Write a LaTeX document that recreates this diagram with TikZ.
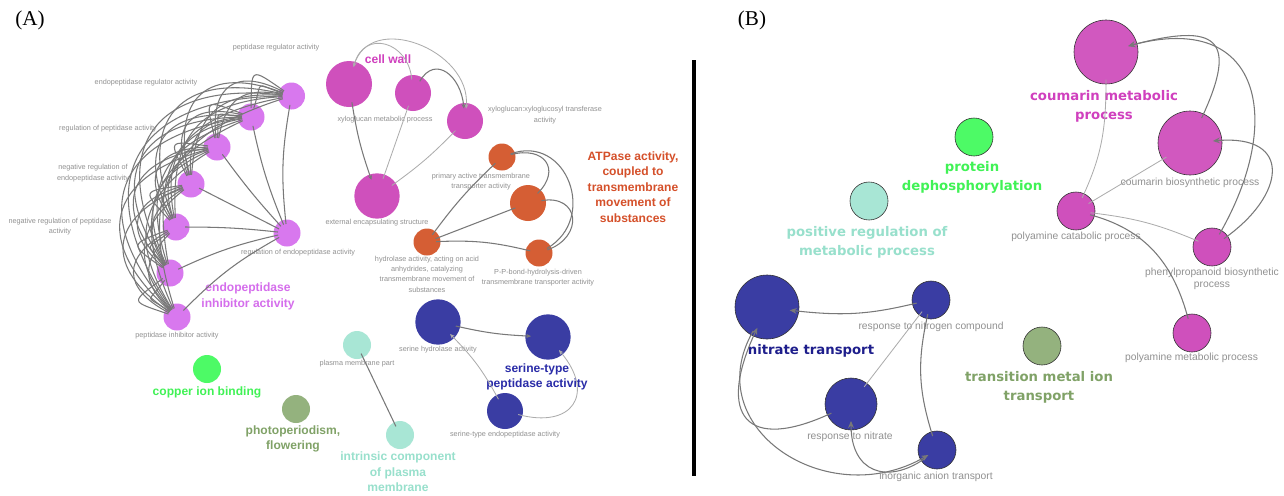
\documentclass[tikz,border=0pt]{standalone}
\usepackage{fontspec}
\setmainfont{Liberation Sans}
\newfontfamily\boldwide{DejaVu Sans}
\newfontfamily\panelserif{Liberation Serif}
\usepackage{xcolor}
\usepackage{tikz}
\usetikzlibrary{arrows.meta}
\definecolor{aviolet}{HTML}{D878EE}
\definecolor{amagenta}{HTML}{CF50BC}
\definecolor{aorange}{HTML}{D55E34}
\definecolor{ablue}{HTML}{3A3DA3}
\definecolor{ateal}{HTML}{A8E6D5}
\definecolor{agreen}{HTML}{4DFA66}
\definecolor{aolive}{HTML}{94B27E}
\definecolor{tviolet}{HTML}{D56EEC}
\definecolor{tmagenta}{HTML}{D040BE}
\definecolor{torange}{HTML}{D5502A}
\definecolor{tblue}{HTML}{2A2CA8}
\definecolor{tnavy}{HTML}{1E1E8C}
\definecolor{tteal}{HTML}{98E0CC}
\definecolor{tgreen}{HTML}{40F255}
\definecolor{tolive}{HTML}{80A267}
\definecolor{edgedk}{RGB}{120,120,120}
\definecolor{edgelt}{RGB}{172,172,172}
\definecolor{txtgray}{RGB}{145,145,145}

\begin{document}
\begin{tikzpicture}[x=0.03cm, y=-0.03cm,
  go/.style={circle, inner sep=0pt, minimum size=#1},
  gob/.style={go=#1, draw=black!80, line width=0.5pt},
  lbla/.style={font=\fontsize{6.2}{8.8}\selectfont, text=txtgray, align=center, inner sep=0pt},
  lblb/.style={font=\fontsize{8.8}{10.4}\selectfont, text=txtgray, align=center, inner sep=0pt},
  grpa/.style={font=\fontsize{10.3}{13.2}\selectfont\bfseries, align=center, inner sep=0pt},
  grpb/.style={font=\boldwide\fontsize{11.3}{16.2}\selectfont\bfseries, align=center, inner sep=0pt},
  lk/.style={draw=edgedk, line width=0.9pt, shorten <=-4pt, shorten >=-4pt},
  lkl/.style={draw=edgelt, line width=0.7pt, shorten <=-4pt, shorten >=-4pt},
  tip/.style={-{Stealth[length=6pt, width=5pt]}, shorten >=-8pt},
  tipa/.style={-{Stealth[length=4pt, width=3.5pt]}, shorten >=-5pt}]
\fill[white] (0,0) rectangle (1284,495);
\useasboundingbox (0,0) rectangle (1284,495);

% panel letters and divider
\node[font=\panelserif\fontsize{18}{20}\selectfont] (pa) at (30,20) {(A)};
\node[font=\panelserif\fontsize{18}{20}\selectfont] (pb) at (752,20) {(B)};
\draw[line width=2.6pt] (694,60) -- (694,476);

% ---------- (A) endopeptidase inhibitor activity
\node[go=0.81cm, fill=aviolet] (p1) at (291.5,96) {};
\node[go=0.81cm, fill=aviolet] (p2) at (251,117) {};
\node[go=0.81cm, fill=aviolet] (p3) at (217,147) {};
\node[go=0.81cm, fill=aviolet] (p4) at (191,184) {};
\node[go=0.81cm, fill=aviolet] (p5) at (176,227) {};
\node[go=0.81cm, fill=aviolet] (p6) at (170,273) {};
\node[go=0.81cm, fill=aviolet] (p7) at (177,317) {};
\node[go=0.81cm, fill=aviolet] (rea) at (287,233) {};
\node[lbla] (l-p1) at (276,48) {peptidase regulator activity};
\node[lbla] (l-p2) at (146,83) {endopeptidase regulator activity};
\node[lbla] (l-p3) at (108,129) {regulation of peptidase activity};
\node[lbla] (l-p4) at (93,173) {negative regulation of\\endopeptidase activity};
\node[lbla] (l-p5) at (60,226.5) {negative regulation of peptidase\\activity};
\node[lbla] (l-p7) at (177,336) {peptidase inhibitor activity};
\node[lbla] (l-rea) at (298,253) {regulation of endopeptidase activity};
\node[grpa, text=tviolet] (g-eia) at (248,296.5) {endopeptidase\\inhibitor activity};

\foreach \i in {1,...,7}{
  \foreach \j in {1,...,7}{
    \ifnum\j>\i
      \draw[lk] (p\i) to[bend right=62, looseness=1.6, min distance=1.1cm] (p\j);
      \draw[lk] (p\i) to[bend right=45, looseness=1.3, min distance=0.8cm] (p\j);
    \fi
  }
}
\foreach \i/\b in {1/8,2/5,3/3,4/0,5/-3,6/-6,7/-8}
  \draw[lk] (rea) to[bend left=\b] (p\i);

% ---------- (A) cell wall
\node[go=1.38cm, fill=amagenta] (x1) at (349,84) {};
\node[go=1.08cm, fill=amagenta] (x2) at (413,93) {};
\node[go=1.08cm, fill=amagenta] (xt) at (465,121) {};
\node[go=1.36cm, fill=amagenta] (ex) at (377,196) {};
\node[lbla] (l-x1) at (385,120) {xyloglucan metabolic process};
\node[lbla] (l-xt) at (545,115) {xyloglucan:xyloglucosyl transferase\\activity};
\node[lbla] (l-ex) at (377,223) {external encapsulating structure};
\node[grpa, text=tmagenta] (g-cw) at (388,59) {cell wall};
\draw[lk, tipa] (x1) to[bend right=5] (ex);
\draw[lkl] (x2) to (ex);
\draw[lkl] (xt) to[bend left=5] (ex);
\draw[lkl, tipa] (x2) to[out=95, in=75, looseness=1.5] (x1);
\draw[lkl, tipa] (x1) to[out=75, in=85, looseness=1.15] (xt);
\draw[lk, tipa] (x2) to[out=60, in=95, looseness=1.4] (xt);

% ---------- (A) ATPase activity
\node[go=0.81cm, fill=aorange] (pr) at (502,157) {};
\node[go=1.08cm, fill=aorange] (bg) at (528,203) {};
\node[go=0.81cm, fill=aorange] (hy) at (427,242) {};
\node[go=0.81cm, fill=aorange] (pp) at (539,253) {};
\node[lbla] (l-pr) at (481,181.5) {primary active transmembrane\\transporter activity};
\node[lbla] (l-hy) at (427,274) {hydrolase activity, acting on acid\\anhydrides, catalyzing\\transmembrane movement of\\substances};
\node[lbla] (l-pp) at (538,277.5) {P-P-bond-hydrolysis-driven\\transmembrane transporter activity};
\node[grpa, text=torange] (g-atp) at (633,187) {ATPase activity,\\coupled to\\transmembrane\\movement of\\substances};
\draw[lk] (hy) to[bend left=5] (pr);
\draw[lk] (hy) to (bg);
\draw[lk] (hy) to[bend left=8] (pp);
\draw[lk] (pr) to[out=15, in=45, looseness=1.7] (bg);
\draw[lk] (pr) to[out=20, in=30, looseness=1.4] (pp);
\draw[lk] (bg) to[out=10, in=20, looseness=1.8] (pp);

% ---------- (A) serine-type peptidase activity
\node[go=1.36cm, fill=ablue] (sh) at (438,322) {};
\node[go=1.36cm, fill=ablue] (sb) at (548,337) {};
\node[go=1.08cm, fill=ablue] (se) at (505,411) {};
\node[lbla] (l-sh) at (438,350) {serine hydrolase activity};
\node[lbla] (l-se) at (505,435) {serine-type endopeptidase activity};
\node[grpa, text=tblue] (g-ser) at (537,377) {serine-type\\peptidase activity};
\draw[lk, tipa] (sh) to[bend right=5] (sb);
\draw[lkl, tipa] (se) to[bend right=8] (sh);
\draw[lkl, tipa] (se) to[out=-15, in=-50, looseness=1.8] (sb);

% ---------- (A) single terms
\node[go=0.84cm, fill=ateal] (pm) at (357,345) {};
\node[go=0.84cm, fill=ateal] (ic) at (400,435) {};
\node[lbla] (l-pm) at (357,364) {plasma membrane part};
\node[grpa, text=tteal] (g-ic) at (398,472) {intrinsic component\\of plasma\\membrane};
\draw[lk] (pm) to (ic);
\node[go=0.84cm, fill=agreen] (cu) at (207,369) {};
\node[grpa, text=tgreen] (g-cu) at (207,392) {copper ion binding};
\node[go=0.84cm, fill=aolive] (fl) at (296,409) {};
\node[grpa, text=tolive] (g-fl) at (293,439) {photoperiodism,\\flowering};

% ---------- (B)
\node[gob=1.14cm, fill=agreen] (pd) at (974,137) {};
\node[grpb, text=tgreen] (g-pd) at (972,177.5) {protein\\dephosphorylation};
\node[gob=1.14cm, fill=ateal] (prm) at (869,201) {};
\node[grpb, text=tteal] (g-prm) at (867,242) {positive regulation of\\metabolic process};
\node[gob=1.14cm, fill=aolive] (tm) at (1042,346) {};
\node[grpb, text=tolive] (g-tm) at (1039,387) {transition metal ion\\transport};

% coumarin metabolic process
\node[gob=1.92cm, fill=amagenta, fill opacity=0.95] (cm) at (1106,52) {};
\node[gob=1.92cm, fill=amagenta, fill opacity=0.95] (cb) at (1190,143) {};
\node[gob=1.14cm, fill=amagenta] (pc) at (1076,211) {};
\node[gob=1.14cm, fill=amagenta] (php) at (1212,247) {};
\node[gob=1.14cm, fill=amagenta] (pmet) at (1192,333) {};
\node[grpb, text=tmagenta] (g-cm) at (1104,106.5) {coumarin metabolic\\process};
\node[lblb] (l-cb) at (1190,183) {coumarin biosynthetic process};
\node[lblb] (l-pc) at (1076,237) {polyamine catabolic process};
\node[lblb] (l-php) at (1212,279) {phenylpropanoid biosynthetic\\process};
\node[lblb] (l-pmet) at (1191.5,358) {polyamine metabolic process};
\draw[lk, tip] (cb) to[out=65, in=15, looseness=2.2] (cm);
\draw[lk, tip] (php) to[out=60, in=15, looseness=1.6] (cm);
\draw[lk, tip] (php) to[out=35, in=5, looseness=1.9] (cb);
\draw[lkl] (pc) to[out=65, in=-90] (cm);
\draw[lkl] (pc) to (cb);
\draw[lkl] (pc) to[bend left=8] (php);
\draw[lk] (pc) to[out=-15, in=105] (pmet);

% nitrate transport
\node[gob=1.92cm, fill=ablue] (nt) at (767,307) {};
\node[gob=1.14cm, fill=ablue] (rnc) at (931,300) {};
\node[gob=1.56cm, fill=ablue] (rnt) at (851,404) {};
\node[gob=1.14cm, fill=ablue] (ia) at (937,450) {};
\node[grpb, text=tnavy] (g-nt) at (811,351) {nitrate transport};
\node[lblb] (l-rnc) at (931,327) {response to nitrogen compound};
\node[lblb] (l-rnt) at (850,437) {response to nitrate};
\node[lblb] (l-ia) at (936,477) {inorganic anion transport};
\draw[lk, tip] (rnc) to[bend left=10] (nt);
\draw[lkl] (rnc) to (rnt);
\draw[lk] (rnc) to[bend right=15] (ia);
\draw[lk, tip] (rnt) to[out=205, in=245, looseness=2.1] (nt);
\draw[lk, tip] (nt) to[out=240, in=210, looseness=1.3] (ia);
\draw[lk, tip] (ia) to[out=215, in=270, looseness=1.4] (rnt);
\end{tikzpicture}
\end{document}
